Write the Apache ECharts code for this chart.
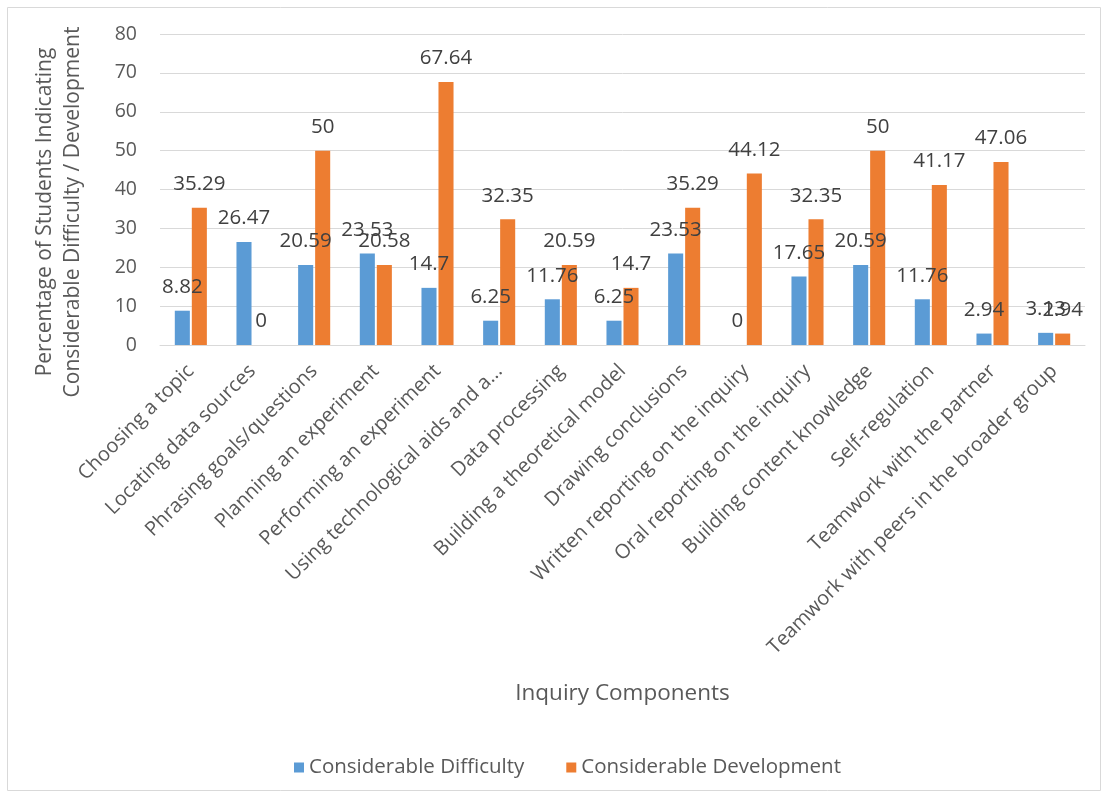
<!DOCTYPE html>
<html><head><meta charset="utf-8">
<script src="https://cdn.jsdelivr.net/npm/echarts@6/dist/echarts.min.js"></script>
<style>html,body{margin:0;padding:0;background:#fff}#c{width:1110px;height:799px}</style>
</head><body><div id="c"></div>
<script>
const categories = ["Choosing a topic","Locating data sources","Phrasing goals/questions","Planning an experiment","Performing an experiment","Using technological aids and a...","Data processing","Building a theoretical model","Drawing conclusions","Written reporting on the inquiry","Oral reporting on the inquiry","Building content knowledge","Self-regulation","Teamwork with the partner","Teamwork with peers in the broader group"];
const difficulty = [8.82,26.47,20.59,23.53,14.7,6.25,11.76,6.25,23.53,0,17.65,20.59,11.76,2.94,3.13];
const development = [35.29,0,50,20.58,67.64,32.35,20.59,14.7,35.29,44.12,32.35,50,41.17,47.06,2.94];
const yTicks = {min:0,max:80,interval:10};
const yTitle = 'Percentage of Students Indicating\nConsiderable Difficulty / Development';
const FONT = '"Open Sans", sans-serif';
const chart = echarts.init(document.getElementById('c'), null, {renderer:'canvas'});
const lbl = {show:true,position:'top',distance:13,color:'#404040',fontSize:20.5,fontFamily:FONT};
chart.setOption({
  animation:false,
  textStyle:{fontFamily:FONT},
  graphic:[
    {type:'rect',shape:{x:7.5,y:7.5,width:1093,height:783},style:{fill:'none',stroke:'#d9d9d9',lineWidth:1},silent:true,z:-1},
    {type:'text',x:59,y:212,rotation:Math.PI/2,style:{text:yTitle,fill:'#595959',font:'21px "Open Sans", sans-serif',lineHeight:28,align:'center',verticalAlign:'middle'},silent:true}
  ],
  grid:{left:160,right:25,top:34,bottom:454,containLabel:false},
  legend:{top:752,left:289,itemWidth:10,itemHeight:10,itemGap:42,icon:'rect',
    textStyle:{color:'#595959',fontSize:20.5,fontFamily:FONT},data:['Considerable Difficulty','Considerable Development']},
  xAxis:{type:'category',data:categories,name:'Inquiry Components',nameLocation:'middle',nameGap:337,
    nameTextStyle:{color:'#595959',fontSize:22.5,fontFamily:FONT},
    axisLine:{lineStyle:{color:'#d9d9d9'}},axisTick:{show:false},
    axisLabel:{rotate:45,interval:0,color:'#595959',fontSize:20,fontFamily:FONT,margin:23}},
  yAxis:{type:'value',min:yTicks.min,max:yTicks.max,interval:yTicks.interval,
    axisLine:{show:false},axisTick:{show:false},
    splitLine:{lineStyle:{color:'#d9d9d9'}},
    axisLabel:{color:'#595959',fontSize:19.5,fontFamily:FONT,margin:23}},
  series:[
    {name:'Considerable Difficulty',type:'bar',data:difficulty,itemStyle:{color:'#5B9BD5'},barGap:'13%',barCategoryGap:'48%',label:lbl},
    {name:'Considerable Development',type:'bar',data:development,itemStyle:{color:'#ED7D31'},label:lbl}
  ]
});
</script></body></html>
